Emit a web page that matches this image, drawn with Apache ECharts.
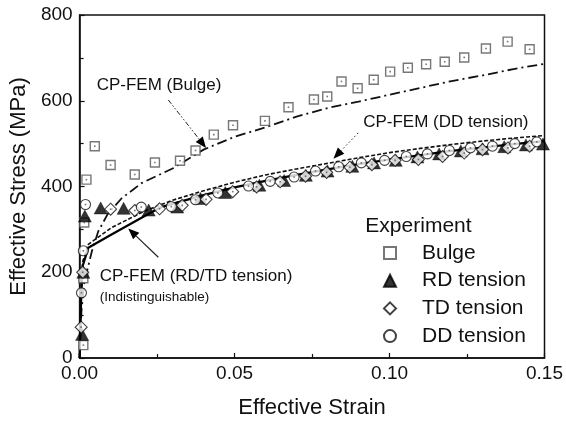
<!DOCTYPE html>
<html><head><meta charset="utf-8">
<script src="https://cdn.jsdelivr.net/npm/echarts@6/dist/echarts.min.js"></script>
<style>html,body{margin:0;padding:0;background:#fff}#c{width:566px;height:424px}</style>
</head><body><div id="c"></div>
<script>
// ---- data (strain, MPa) ----
const xTickLabels = ['0.00','0.05','0.10','0.15'];
const yTickLabels = ['0','200','400','600','800'];
const bulgeExp = [[0.0012,30],[0.0012,186],[0.0015,316],[0.0022,416],[0.0049,494],[0.0100,450],[0.0178,428],[0.0243,456],[0.0324,460],[0.0374,484],[0.0433,521],[0.0495,543],[0.0598,553],[0.0674,585],[0.0756,603],[0.0799,610],[0.0845,645],[0.0897,629],[0.0949,649],[0.1002,668],[0.1059,677],[0.1118,685],[0.1178,691],[0.1241,701],[0.1311,722],[0.1381,738],[0.1452,720]];
const rdExp = [[0.0008,55],[0.0012,200],[0.0017,331],[0.0068,350],[0.0142,349],[0.0223,345],[0.0315,352],[0.039,372],[0.047,386],[0.058,403],[0.066,414],[0.073,426],[0.080,436],[0.088,447],[0.095,455],[0.102,461],[0.109,469],[0.116,476],[0.123,483],[0.130,488],[0.137,493],[0.144,497],[0.1495,499]];
const tdExp = [[0.0005,72],[0.001,200],[0.0100,347],[0.0178,344],[0.0258,348],[0.0331,356],[0.0408,370],[0.0494,388],[0.0571,399],[0.0647,411],[0.0729,424],[0.0797,433],[0.0872,445],[0.0943,451],[0.1018,461],[0.1093,463],[0.1171,470],[0.1241,478],[0.1300,486],[0.1382,490],[0.1452,494]];
const ddExp = [[0.0006,152],[0.0012,250],[0.0019,358],[0.0199,352],[0.0296,353],[0.0374,369],[0.0446,385],[0.0545,401],[0.0615,412],[0.0692,422],[0.0761,436],[0.0836,446],[0.0909,455],[0.0984,461],[0.1054,470],[0.1122,476],[0.1193,484],[0.1261,490],[0.1332,494],[0.1404,500],[0.1475,504]];
const bulgeFem = [[0,0],[0.0006,110],[0.0015,175],[0.0028,215],[0.004,250],[0.006,295],[0.009,335],[0.0135,372],[0.02,408],[0.03,442],[0.04,486],[0.05,516],[0.06,538],[0.07,563],[0.08,583],[0.09,598],[0.10,614],[0.11,630],[0.12,646],[0.13,659],[0.14,674],[0.15,686]];
const ddFem = [[0,0],[0.0005,150],[0.001,225],[0.0028,265],[0.0103,304],[0.021,343],[0.03,368],[0.04,390],[0.05,410],[0.06,427],[0.07,441],[0.08,454],[0.09,467],[0.10,479],[0.11,489],[0.12,498],[0.13,506],[0.14,513],[0.15,519]];
const rdtdFem = [[0,0],[0.0005,140],[0.001,215],[0.0028,257],[0.0103,288],[0.021,331],[0.0263,352],[0.04,380],[0.05,398],[0.06,413],[0.07,427],[0.08,440],[0.09,452],[0.10,463],[0.11,473],[0.12,483],[0.13,491],[0.14,499],[0.15,506]];
// annotations: [text, x, y] in data coords, arrows [from, to]
const annoBulge = {text:'CP-FEM (Bulge)', at:[0.0055,636], from:[0.0286,602], to:[0.0408,490]};
const annoDD = {text:'CP-FEM (DD tension)', at:[0.0915,550], from:[0.0899,525], to:[0.0819,465]};
const annoRD = {text:'CP-FEM (RD/TD tension)', at:[0.0065,190], from:[0.0254,235], to:[0.0157,302]};
const annoRDsub = {text:'(Indistinguishable)', at:[0.0065,142]};

const FONT = '"Liberation Sans", Arial, sans-serif';
const chart = echarts.init(document.getElementById('c'), null, {renderer:'canvas'});
const dotStyle = {color:'#555'};
const option = {
  animation:false,
  backgroundColor:'#fff',
  textStyle:{fontFamily:FONT},
  grid:{left:78, right:21, top:15, bottom:65, show:true, borderColor:'#111', borderWidth:1.5, backgroundColor:'transparent'},
  xAxis:{type:'value', min:0, max:0.15, interval:0.05,
    axisLine:{lineStyle:{color:'#111', width:1.5}},
    axisTick:{inside:true, length:5, lineStyle:{color:'#111', width:1.2}},
    minorTick:{show:true, splitNumber:2, length:4, lineStyle:{color:'#111', width:1.2}},
    splitLine:{show:false},
    axisLabel:{color:'#111', fontSize:19, margin:6, fontFamily:FONT,
      formatter:(v)=>xTickLabels[Math.round(v/0.05)]},
    name:'Effective Strain', nameLocation:'middle', nameGap:39,
    nameTextStyle:{color:'#111', fontSize:22, fontFamily:FONT}},
  yAxis:{type:'value', min:0, max:800, interval:200,
    axisLine:{show:true, lineStyle:{color:'#111', width:1.5}},
    axisTick:{show:true, inside:true, length:5, lineStyle:{color:'#111', width:1.2}},
    minorTick:{show:true, splitNumber:2, length:4, lineStyle:{color:'#111', width:1.2}},
    splitLine:{show:false},
    axisLabel:{color:'#111', fontSize:19, margin:7, fontFamily:FONT,
      formatter:(v)=>yTickLabels[Math.round(v/200)]},
    name:'Effective Stress (MPa)', nameLocation:'middle', nameGap:48,
    nameTextStyle:{color:'#111', fontSize:22, fontFamily:FONT}},
  legend:{orient:'vertical', left:378, top:237, itemWidth:12, itemHeight:12, itemGap:5.7,
    data:['Bulge','RD tension','TD tension','DD tension'],
    textStyle:{color:'#111', fontSize:21, fontFamily:FONT, lineHeight:22, padding:[0,0,0,21]}},
  series:[
    {type:'line', name:'fem-bulge', data:bulgeFem, showSymbol:false, symbol:'none', z:2,
      lineStyle:{color:'#111', width:1.8, type:[10,4,2,4]}},
    {type:'line', name:'fem-dd', data:ddFem, showSymbol:false, symbol:'none', z:2,
      lineStyle:{color:'#111', width:1.6, type:[4,2]}},
    {type:'line', name:'fem-rdtd', data:rdtdFem, showSymbol:false, symbol:'none', z:2,
      lineStyle:{color:'#000', width:2.2}},
    {type:'scatter', name:'Bulge', data:bulgeExp, symbol:'rect', symbolSize:9, z:3,
      itemStyle:{color:'#fff', borderColor:'#555', borderWidth:1.4}},
    {type:'scatter', name:'RD tension', data:rdExp, symbol:'triangle', symbolSize:[13,12], z:4,
      itemStyle:{color:'#000', borderColor:'#000', borderWidth:0.5}},
    {type:'scatter', name:'TD tension', data:tdExp, symbol:'diamond', symbolSize:12, z:5,
      itemStyle:{color:'#fff', borderColor:'#111', borderWidth:1.1}},
    {type:'scatter', name:'DD tension', data:ddExp, symbol:'circle', symbolSize:10, z:6,
      itemStyle:{color:'#fff', borderColor:'#111', borderWidth:1.1}},
    {type:'scatter', name:'dots1', data:bulgeExp, symbol:'rect', symbolSize:1.6, z:7, itemStyle:dotStyle, silent:true},
    {type:'scatter', name:'dots2', data:tdExp, symbol:'rect', symbolSize:1.6, z:7, itemStyle:dotStyle, silent:true},
    {type:'scatter', name:'dots3', data:ddExp, symbol:'rect', symbolSize:1.6, z:7, itemStyle:dotStyle, silent:true}
  ]
};
chart.setOption(option);

function px(p){ return chart.convertToPixel({gridIndex:0}, p); }
function arrow(a, dash, width){
  const f = px(a.from), t = px(a.to);
  const dx = t[0]-f[0], dy = t[1]-f[1], L = Math.hypot(dx,dy), ux = dx/L, uy = dy/L;
  const hl = 11, hw = 4.5;
  const bx = t[0]-ux*hl, by = t[1]-uy*hl;
  return [
    {type:'line', shape:{x1:f[0], y1:f[1], x2:bx, y2:by}, style:{stroke:'#222', lineWidth:width, lineDash:dash}, z:10},
    {type:'polygon', shape:{points:[[t[0],t[1]],[bx-uy*hw,by+ux*hw],[bx+uy*hw,by-ux*hw]]}, style:{fill:'#000'}, z:10}
  ];
}
function label(a, size){
  const p = px(a.at);
  return {type:'text', x:p[0], y:p[1], style:{text:a.text, font:size+'px '+FONT, fill:'#111', textVerticalAlign:'middle'}, z:10};
}
const lgPos = px([0.0922,307]);
chart.setOption({graphic:[
  ...arrow(annoBulge,[5,2,1.5,2,1.5,2],1),
  ...arrow(annoDD,[1.5,2.5],1),
  ...arrow(annoRD,null,1.2),
  label(annoBulge,17), label(annoDD,17), label(annoRD,17), label(annoRDsub,13.5),
  {type:'text', x:lgPos[0], y:lgPos[1], style:{text:'Experiment', font:'21px '+FONT, fill:'#111', textVerticalAlign:'middle'}, z:10}
]});
</script></body></html>
